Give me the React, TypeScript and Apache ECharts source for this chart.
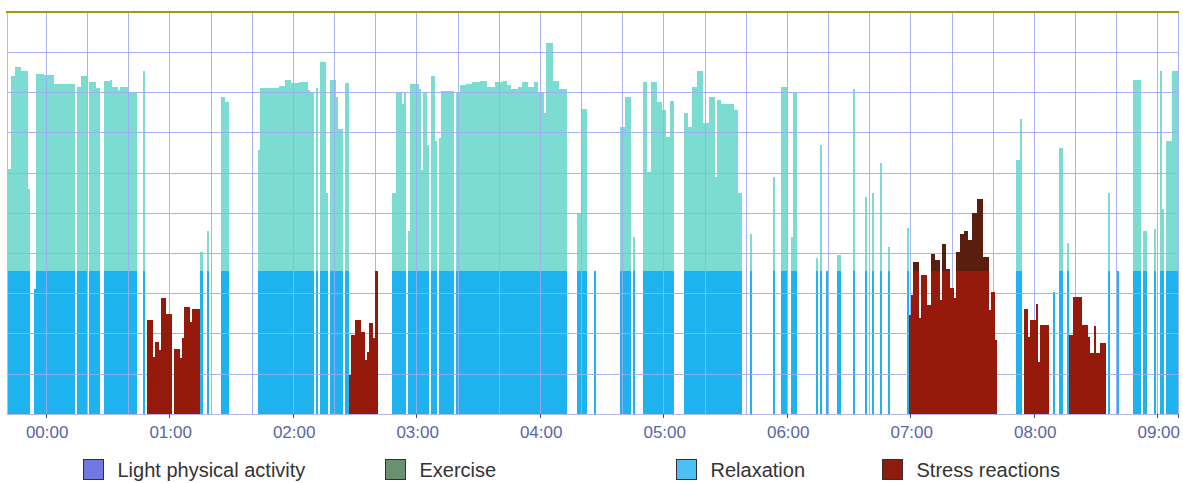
import React, { useEffect, useRef } from "react";
import * as echarts from "echarts";

// minutes relative to 00:00; one bar per minute
const START_MIN = -19;
const END_MIN = 550; // exclusive
const THRESHOLD = 35.6;

// [startMinute, endMinute (exclusive), height]
const relaxRuns: [number, number, number][] = [
  [-19, -17, 61], [-17, -15, 84], [-15, -12, 86.4], [-12, -9, 85.3], [-9, -8, 56],
  [-6, -5, 31], [-5, -1, 84.7], [-1, 4, 84.3], [4, 14, 82.1], [15, 17, 81.3],
  [17, 20, 84.2], [21, 24, 82.5], [24, 26, 81], [28, 31, 82.9], [31, 32, 83.2],
  [32, 35, 81.3], [35, 36, 80.6], [36, 40, 81.3], [40, 44, 80.2], [47, 48, 85.3],
  [75, 76, 40.4], [78, 79, 45.4], [85, 87, 78.9], [87, 89, 77.7], [103, 104, 65.7],
  [104, 113, 81], [113, 116, 81.5], [116, 119, 83], [119, 123, 82.3], [123, 127, 82.6],
  [127, 128, 80.5], [128, 130, 80.2], [131, 132, 81], [133, 136, 87.6], [136, 137, 54.9],
  [138, 141, 83], [141, 142, 78.9], [142, 144, 71], [145, 147, 82.3],
  [168, 170, 54.9], [170, 173, 80.2], [173, 174, 77], [174, 175, 80.2], [176, 177, 45.4],
  [177, 181, 82.1], [181, 182, 80.8], [182, 183, 60.7], [183, 185, 79.8], [185, 186, 66.9],
  [187, 189, 84.2], [189, 190, 68], [191, 192, 68.6], [192, 198, 80.4], [199, 201, 80.2],
  [201, 204, 81.8], [204, 207, 82.1], [207, 211, 82.5], [211, 214, 82.9], [214, 218, 81.3],
  [218, 222, 82.5], [222, 224, 82.9], [224, 226, 81.8], [226, 229, 80.8], [229, 231, 81.3],
  [231, 234, 82.5], [234, 237, 81.4], [237, 239, 82.5], [239, 242, 80.2], [242, 243, 75],
  [243, 246, 92.4], [246, 249, 82.9], [249, 253, 80.8], [258, 260, 50], [260, 263, 75.9],
  [266, 267, 35.5], [279, 281, 71.3], [281, 284, 78.9], [285, 286, 44.1], [290, 292, 82.5],
  [292, 294, 60.3], [294, 297, 82.5], [297, 299, 77.7], [299, 301, 75.6], [301, 303, 68.9],
  [303, 305, 77.9], [310, 312, 74.8], [312, 314, 71.3], [314, 316, 81.3], [316, 319, 85.4],
  [319, 322, 72.5], [322, 325, 78.9], [325, 326, 59], [326, 328, 78], [328, 334, 77.1],
  [334, 336, 75.6], [336, 338, 54.9], [342, 343, 44.8], [353, 354, 58.9], [357, 360, 81.3],
  [362, 363, 44.1], [363, 365, 80.2], [374, 375, 38.7], [376, 377, 66.9], [379, 380, 35.5],
  [384, 386, 39.5], [392, 393, 80.8], [398, 399, 54.1], [401, 402, 54.9], [405, 406, 62.4],
  [409, 410, 41.6], [418, 419, 46.2], [471, 473, 63.2], [473, 474, 73.3], [489, 490, 30.4],
  [492, 494, 66.1], [496, 497, 42.5], [516, 517, 54.9], [520, 521, 35.5], [528, 532, 83.1],
  [533, 535, 45.4], [538, 539, 46], [541, 542, 85.4], [542, 543, 51], [544, 547, 67.9],
  [547, 550, 85.4],
];

const stressRuns: [number, number, number][] = [
  [49, 52, 23.4], [52, 53, 14.3], [53, 55, 18], [55, 56, 16], [56, 58, 28.9],
  [58, 61, 24.9], [62, 65, 16.2], [65, 66, 14], [66, 67, 18.9], [67, 70, 26.6],
  [70, 71, 22.9], [71, 75, 26.1],
  [147, 148, 9.7], [148, 150, 19.6], [150, 153, 23.4], [153, 155, 20.5], [155, 156, 13.4],
  [156, 157, 15.5], [157, 159, 22.6], [159, 160, 18.9], [160, 161, 35.5],
  [419, 420, 24.6], [420, 421, 29.6], [421, 424, 37.9], [424, 425, 23.8], [425, 428, 34.6],
  [428, 430, 27.1], [430, 432, 39.8], [432, 434, 38.3], [434, 435, 28.3], [435, 437, 42.3],
  [437, 439, 36], [439, 441, 31.3], [441, 442, 28.8], [442, 444, 40.4], [444, 446, 44.9],
  [446, 448, 45.4], [448, 450, 43.4], [450, 452, 50.1], [452, 455, 53.6], [455, 458, 39.1],
  [458, 459, 25.9], [459, 461, 30.4], [461, 462, 18.4],
  [475, 477, 26], [477, 478, 19.2], [478, 481, 23.4], [481, 482, 27.4], [482, 483, 13],
  [483, 487, 22.1],
  [497, 499, 19.6], [499, 503, 29.2], [503, 506, 22.1], [506, 507, 19.2], [507, 509, 15.1],
  [509, 510, 21.9], [510, 512, 15.1], [512, 515, 17.6],
];

const legendNames = ["Light physical activity", "Exercise", "Relaxation", "Stress reactions"];
const legendColors = ["#7078e4", "#6a9070", "#4cc0f2", "#8e1c0e"];

const pad = (n: number) => (n < 10 ? "0" + n : "" + n);
const categories: string[] = [];
for (let m = START_MIN; m < END_MIN; m++) {
  const t = (m + 1440) % 1440;
  categories.push(pad(Math.floor(t / 60)) + ":" + pad(t % 60));
}

function expand(runs: [number, number, number][]) {
  const arr: number[] = new Array(END_MIN - START_MIN).fill(0);
  for (const [s, e, v] of runs) for (let m = s; m < e; m++) arr[m - START_MIN] = v;
  return arr;
}
const relax = expand(relaxRuns);
const stress = expand(stressRuns);
const low = (a: number[]) => a.map((v) => (v > 0 ? Math.min(v, THRESHOLD) : null));
const high = (a: number[]) => a.map((v) => (v > THRESHOLD ? +(v - THRESHOLD).toFixed(2) : null));

const FONT = "'Liberation Sans', Arial, sans-serif";
const GRID_COLOR = "rgba(160,170,244,0.9)";

export default function App() {
  const ref = useRef<HTMLDivElement>(null);
  useEffect(() => {
    if (!ref.current) return;
    const chart = echarts.init(ref.current, undefined, { renderer: "svg" });
    const isHour = (_i: number, v: string) => v.endsWith(":00");
    const isTwenty = (_i: number, v: string) => /:(00|20|40)$/.test(v);
    const lefts = [83, 385, 676, 882];
    const barBase = { type: "bar", stack: "s", barCategoryGap: "0%", barGap: "0%", emphasis: { disabled: true } };
    chart.setOption({
      animation: false,
      grid: { left: 7, right: 0, top: 12, bottom: 69 },
      legend: legendNames.map((n, i) => ({
        data: [n],
        left: lefts[i],
        top: 459,
        padding: 0,
        icon: "rect",
        itemWidth: 20,
        itemHeight: 20,
        selectedMode: false,
        itemStyle: { color: legendColors[i], borderColor: "#3a2a3a", borderWidth: 1 },
        textStyle: { fontSize: 20, color: "#333", fontFamily: FONT, padding: [0, 0, 0, 9] },
      })),
      xAxis: [
        {
          type: "category",
          data: categories,
          z: 5,
          axisLine: { show: true, lineStyle: { color: "#b4b8ee", width: 1 } },
          axisTick: { show: true, interval: isHour, length: 4, lineStyle: { color: "#404a70" } },
          axisLabel: { interval: isHour, fontSize: 17, color: "#5766a8", margin: 10, fontFamily: FONT },
          splitLine: { show: true, interval: isTwenty, lineStyle: { color: GRID_COLOR, width: 1 } },
        },
        {
          type: "category",
          data: categories,
          position: "top",
          z: 6,
          axisLine: { show: true, lineStyle: { color: "#a09a10", width: 2 } },
          axisTick: { show: false },
          axisLabel: { show: false },
          splitLine: { show: false },
        },
      ],
      yAxis: {
        type: "value",
        min: 0,
        max: 100,
        interval: 10,
        z: 5,
        axisLabel: { show: false },
        axisTick: { show: false },
        axisLine: { show: true, lineStyle: { color: "#b4b8ee" } },
        splitLine: { show: true, lineStyle: { color: GRID_COLOR, width: 1 } },
      },
      series: [
        { ...barBase, name: legendNames[0], data: [], itemStyle: { color: legendColors[0] } },
        { ...barBase, name: legendNames[1], data: [], itemStyle: { color: legendColors[1] } },
        { ...barBase, name: legendNames[2], data: low(relax), itemStyle: { color: "#1eb2ef" }, z: 2 },
        { ...barBase, name: "Relaxation (upper)", data: high(relax), itemStyle: { color: "#7ddcd2" }, z: 2 },
        { ...barBase, name: legendNames[3], data: low(stress), itemStyle: { color: "#961a0c" }, z: 7 },
        { ...barBase, name: "Stress reactions (upper)", data: high(stress), itemStyle: { color: "#5a1e0e" }, z: 7 },
      ],
    });
    return () => chart.dispose();
  }, []);
  return (
    <div style={{ position: "absolute", left: 0, top: 0, width: 1183, height: 483, background: "#fff" }}>
      <style>{".crisp-chart svg path { shape-rendering: crispEdges; }"}</style>
      <div className="crisp-chart" ref={ref} style={{ width: 1183, height: 483 }} />
    </div>
  );
}
